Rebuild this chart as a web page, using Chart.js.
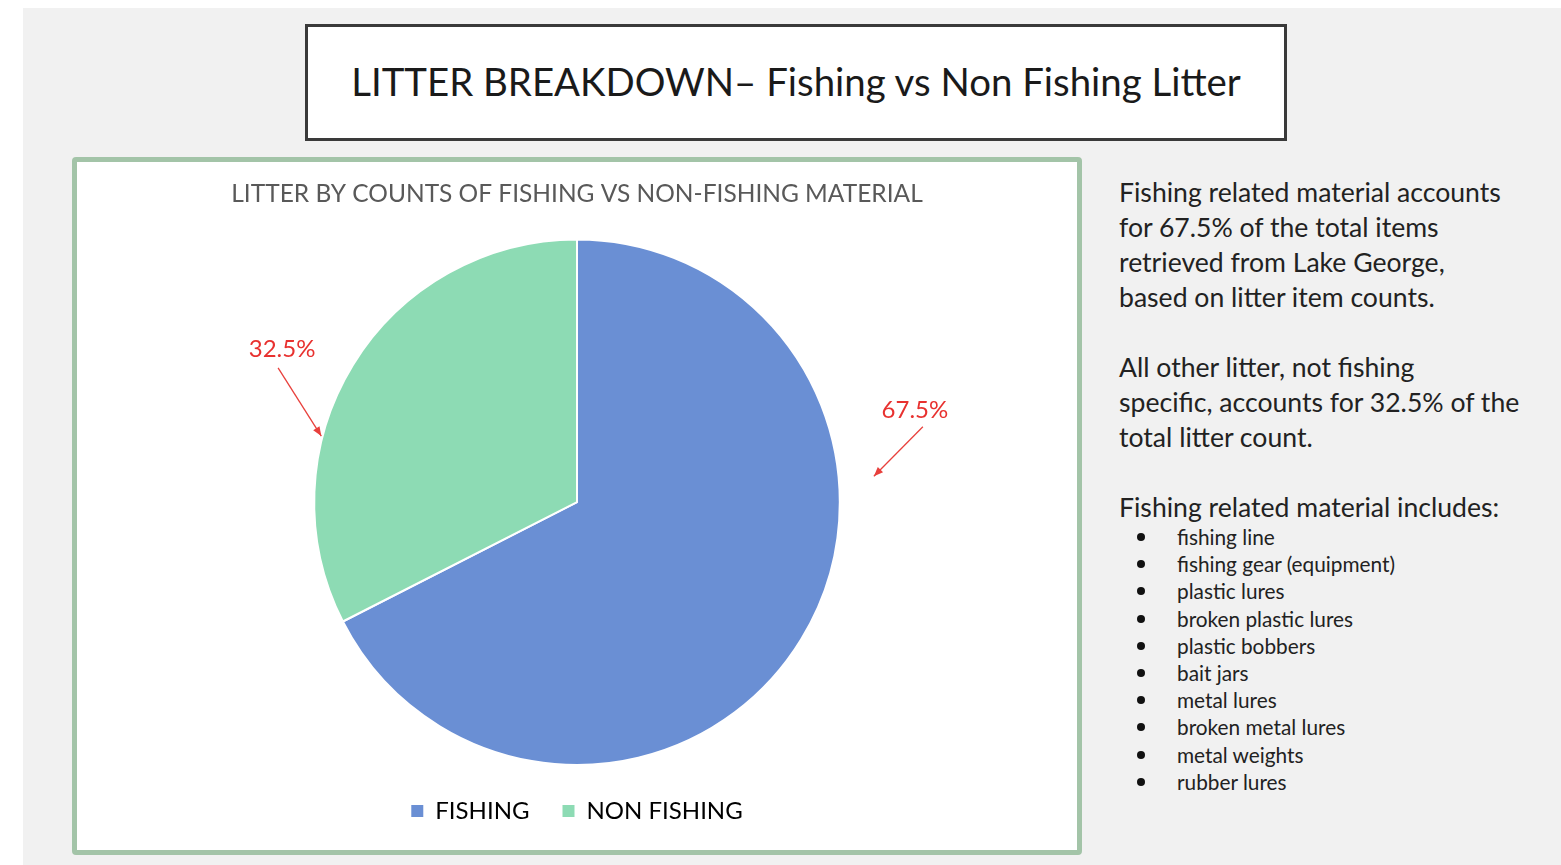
<!DOCTYPE html>
<html>
<head>
<meta charset="utf-8">
<script src="https://cdn.jsdelivr.net/npm/chart.js@4"></script>
<style>
  html, body { margin: 0; padding: 0; background: #fff; }
  body { width: 1561px; height: 865px; position: relative; overflow: hidden; font-family: Lato, "Open Sans", sans-serif; }
  #slide { position: absolute; left: 23px; top: 8px; width: 1538px; height: 857px; background: #f1f1f1; }
  #titleBox { position: absolute; left: 305px; top: 24px; width: 976px; height: 111px; border: 3px solid #3a3a3a; background: #fff;
    display: flex; align-items: center; justify-content: center; font-size: 38.4px; color: #1a1a1a; padding-bottom: 3px; box-sizing: content-box; height: 108px; }
  #card { position: absolute; left: 72px; top: 157px; width: 1000px; height: 688px; border: 5px solid #a3c4a8; border-radius: 4px; background: #fff; }
  #chartWrap { position: absolute; left: 0; top: 0; width: 1000px; height: 688px; }
  #side { position: absolute; left: 1119px; top: 175px; width: 440px; color: #222; font-size: 26.6px; line-height: 35px; white-space: nowrap; }
  #side p { margin: 0 0 35px 0; }
  #side ul { margin: -2px 0 0 0; padding: 0; list-style: none; font-size: 20.8px; line-height: 27.2px; }
  #side li { position: relative; padding-left: 58px; }
  #side li::before { content: ""; position: absolute; left: 18px; top: 10px; width: 8px; height: 8px; border-radius: 50%; background: #111; }
</style>
</head>
<body>
<div id="slide"></div>
<div id="titleBox">LITTER BREAKDOWN– Fishing vs Non Fishing Litter</div>
<div id="card"><div id="chartWrap"><canvas id="myChart"></canvas></div></div>
<div id="side">
  <p>Fishing related material accounts<br>for 67.5% of the total items<br>retrieved from Lake George,<br>based on litter item counts.</p>
  <p>All other litter, not fishing<br>specific, accounts for 32.5% of the<br>total litter count.</p>
  <div>Fishing related material includes:</div>
  <ul id="items"></ul>
</div>
<script>
const categories = ['FISHING', 'NON FISHING'];
const shares = [67.5, 32.5];
const sliceColors = ['#6a8fd4', '#8ddbb4'];
const fishingItems = ['fishing line', 'fishing gear (equipment)', 'plastic lures', 'broken plastic lures',
  'plastic bobbers', 'bait jars', 'metal lures', 'broken metal lures', 'metal weights', 'rubber lures'];

const list = document.getElementById('items');
fishingItems.forEach(t => {
  const li = document.createElement('li');
  li.textContent = t;
  list.appendChild(li);
});

// where each red callout sits, relative to its slice (angles in degrees, radii as share of outer radius)
const callouts = [
  { head: [-5, 1.134], tail: [-12.3, 1.347], label: [-8, -5] },
  { head: [-165.5, 1.005], tail: [-155.8, 1.247], label: [4, -7] }
];

const calloutPlugin = {
  id: 'callouts',
  afterDatasetsDraw(chart) {
    const ctx = chart.ctx;
    const meta = chart.getDatasetMeta(0);
    meta.data.forEach((arc, i) => {
      const c = callouts[i];
      const R = arc.outerRadius;
      const pt = (a, r) => [arc.x + Math.cos(a * Math.PI / 180) * r * R, arc.y + Math.sin(a * Math.PI / 180) * r * R];
      const [hx, hy] = pt(c.head[0], c.head[1]);
      const [tx, ty] = pt(c.tail[0], c.tail[1]);
      ctx.save();
      ctx.strokeStyle = '#e8403c';
      ctx.fillStyle = '#e8403c';
      ctx.lineWidth = 1.3;
      ctx.beginPath();
      ctx.moveTo(tx, ty);
      ctx.lineTo(hx, hy);
      ctx.stroke();
      const ang = Math.atan2(hy - ty, hx - tx);
      ctx.beginPath();
      ctx.moveTo(hx, hy);
      ctx.lineTo(hx - 10 * Math.cos(ang - 0.38), hy - 10 * Math.sin(ang - 0.38));
      ctx.lineTo(hx - 10 * Math.cos(ang + 0.38), hy - 10 * Math.sin(ang + 0.38));
      ctx.closePath();
      ctx.fill();
      ctx.font = '24px Lato, "Open Sans", sans-serif';
      ctx.textAlign = 'center';
      ctx.textBaseline = 'bottom';
      ctx.fillStyle = '#e8312f';
      ctx.fillText(shares[i].toFixed(1) + '%', tx + c.label[0], ty + c.label[1]);
      ctx.restore();
    });
  }
};

new Chart(document.getElementById('myChart'), {
  type: 'pie',
  data: {
    labels: categories,
    datasets: [{
      data: shares,
      backgroundColor: sliceColors,
      borderColor: '#ffffff',
      borderWidth: 2
    }]
  },
  options: {
    responsive: true,
    maintainAspectRatio: false,
    animation: false,
    layout: { padding: { top: 10, bottom: 17 } },
    plugins: {
      title: {
        display: true,
        text: 'LITTER BY COUNTS OF FISHING VS NON-FISHING MATERIAL',
        color: '#595959',
        font: { family: 'Lato, "Open Sans", sans-serif', size: 24.5, weight: 'normal' },
        padding: { top: 7, bottom: 30 }
      },
      legend: {
        position: 'bottom',
        labels: {
          color: '#595959',
          font: { family: 'Lato, "Open Sans", sans-serif', size: 24 },
          boxWidth: 12,
          boxHeight: 12,
          padding: 33,
          generateLabels(chart) {
            return chart.data.labels.map((l, i) => ({
              text: l, fillStyle: sliceColors[i], strokeStyle: sliceColors[i], lineWidth: 0, index: i, hidden: false
            }));
          }
        }
      },
      tooltip: { enabled: false }
    }
  },
  plugins: [calloutPlugin]
});
</script>
</body>
</html>
